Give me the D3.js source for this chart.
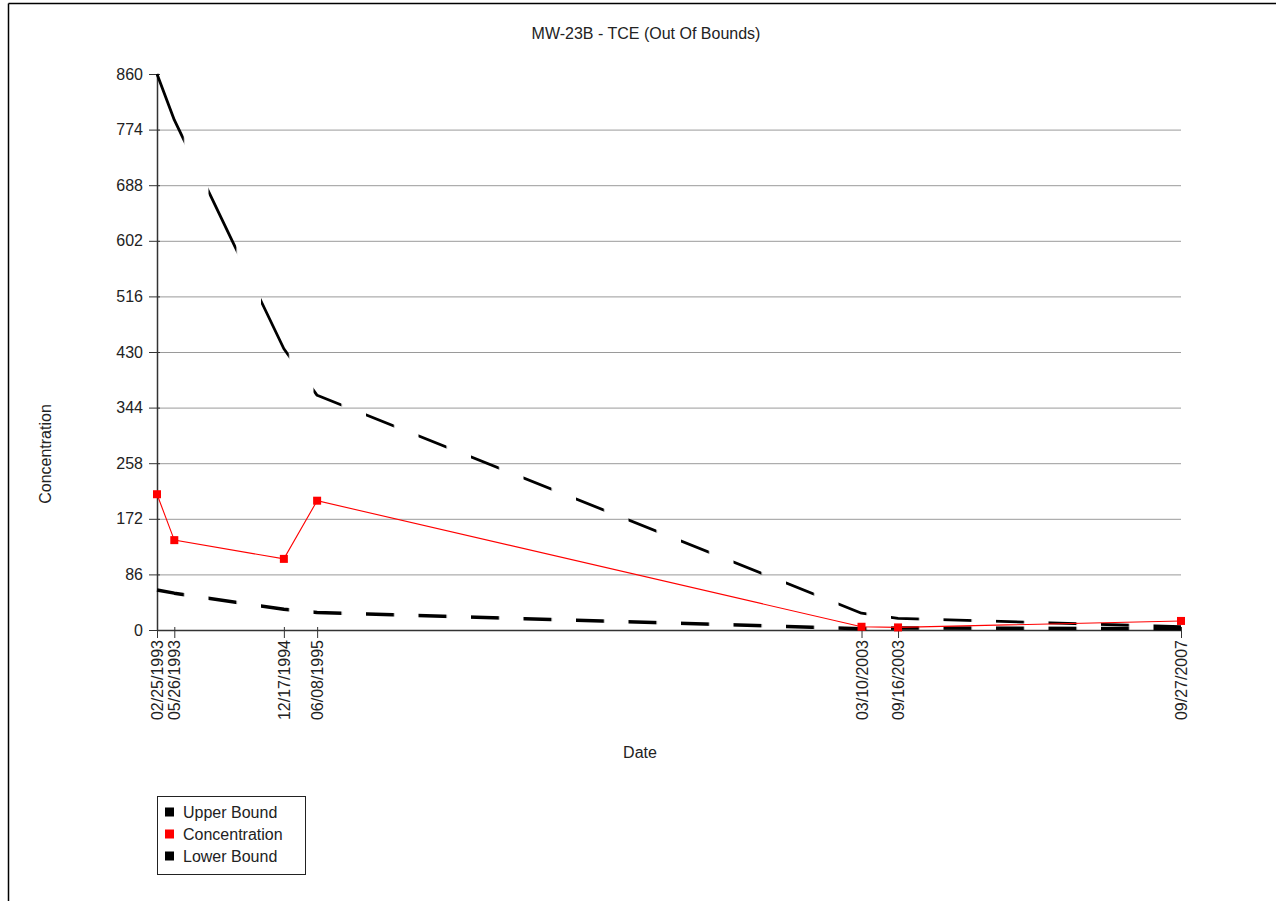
<!DOCTYPE html>
<html>
<head>
<meta charset="utf-8">
<script src="https://cdn.jsdelivr.net/npm/d3@7/dist/d3.min.js"></script>
<style>
  html, body { margin: 0; padding: 0; background: #fff; }
  svg { display: block; }
  text { font-family: "Liberation Sans", Arial, sans-serif; fill: #222; }
</style>
</head>
<body>
<svg id="chart" width="1276" height="901"></svg>
<script>
// ---- data ----
const dates = ["02/25/1993", "05/26/1993", "12/17/1994", "06/08/1995", "03/10/2003", "09/16/2003", "09/27/2007"];
const upperBound = [860, 789, 435, 363, 26, 18, 5];
const concentration = [210, 139, 110, 200, 5, 4, 14];
const lowerBound = [62, 57, 32, 27, 2, 3, 2];
const yTicks = [0, 86, 172, 258, 344, 430, 516, 602, 688, 774, 860];
const seriesNames = ["Upper Bound", "Concentration", "Lower Bound"];
const seriesColors = ["#000000", "#ff0000", "#000000"];
const title = "MW-23B - TCE (Out Of Bounds)";
const xTitle = "Date";
const yTitle = "Concentration";

// ---- layout ----
const W = 1276, H = 901;
const plot = { left: 157, right: 1181, top: 74, bottom: 630 };
const fontSize = 16;

const parse = d3.timeParse("%m/%d/%Y");
const fmt = d3.timeFormat("%m/%d/%Y");
const pd = dates.map(parse);

const x = d3.scaleTime().domain(d3.extent(pd)).range([plot.left, plot.right]);
const y = d3.scaleLinear().domain([0, 860]).range([plot.bottom, plot.top]);

const svg = d3.select("#chart");

// frame (top & left edges)
svg.append("line").attr("x1", 8.5).attr("x2", W).attr("y1", 3.5).attr("y2", 3.5)
  .attr("stroke", "#000").attr("stroke-width", 1.5);
svg.append("line").attr("x1", 8.5).attr("x2", 8.5).attr("y1", 3.5).attr("y2", H)
  .attr("stroke", "#000").attr("stroke-width", 1.5);

// title
svg.append("text").attr("x", 646).attr("y", 39).attr("text-anchor", "middle")
  .style("font-size", fontSize + "px").text(title);

// gridlines (none at the top tick)
const yMax = y.domain()[1];
svg.append("g").selectAll("line").data(yTicks.filter(d => d > 0 && d < yMax)).join("line")
  .attr("x1", plot.left).attr("x2", plot.right)
  .attr("y1", d => y(d) + 0.5).attr("y2", d => y(d) + 0.5)
  .attr("stroke", "#9a9a9a").attr("stroke-width", 1);

// y axis
const yAxis = svg.append("g").attr("transform", `translate(${plot.left},0)`)
  .call(d3.axisLeft(y).tickValues(yTicks).tickSize(8).tickSizeOuter(0).tickPadding(6));
yAxis.select(".domain").attr("stroke", "#333").attr("stroke-width", 1.5);
yAxis.selectAll(".tick line").attr("stroke", "#333").attr("x2", -8).attr("x1", 3);
yAxis.selectAll(".tick text").style("font-size", fontSize + "px").style("font-family", "Liberation Sans, Arial, sans-serif").attr("fill", "#222");

// x axis
const xAxis = svg.append("g").attr("transform", `translate(0,${plot.bottom})`)
  .call(d3.axisBottom(x).tickValues(pd).tickFormat(fmt).tickSize(8).tickSizeOuter(0));
xAxis.select(".domain").attr("stroke", "#333").attr("stroke-width", 1.5);
xAxis.selectAll(".tick line").attr("stroke", "#333").attr("y1", -3);
xAxis.selectAll(".tick text")
  .style("font-size", fontSize + "px").style("font-family", "Liberation Sans, Arial, sans-serif").attr("fill", "#222")
  .attr("transform", "rotate(-90)")
  .attr("text-anchor", "end")
  .attr("x", -10).attr("y", 0).attr("dy", "0.35em");

// axis titles
svg.append("text").attr("x", 640).attr("y", 758).attr("text-anchor", "middle")
  .style("font-size", fontSize + "px").text(xTitle);
svg.append("text").attr("transform", `translate(51,454) rotate(-90)`).attr("text-anchor", "middle")
  .style("font-size", fontSize + "px").text(yTitle);

// dash mask (dashes laid out along x)
const defs = svg.append("defs");
const pat = defs.append("pattern").attr("id", "dashpat").attr("patternUnits", "userSpaceOnUse")
  .attr("x", x(pd[0]) - 1).attr("y", 0).attr("width", 52.5).attr("height", H);
pat.append("rect").attr("x", 0).attr("y", 0).attr("width", 28).attr("height", H).attr("fill", "#fff");
defs.append("mask").attr("id", "dashmask").attr("maskUnits", "userSpaceOnUse")
  .attr("x", 0).attr("y", 0).attr("width", W).attr("height", H)
  .append("rect").attr("x", 0).attr("y", 0).attr("width", W).attr("height", H).attr("fill", "url(#dashpat)");

const line = d3.line().x(d => x(d.date)).y(d => y(d.v));
const mk = arr => arr.map((v, i) => ({ date: pd[i], v }));

const bounds = svg.append("g").attr("mask", "url(#dashmask)");
bounds.append("path").datum(mk(upperBound)).attr("d", line)
  .attr("fill", "none").attr("stroke", seriesColors[0]).attr("stroke-width", 2.8)
  .attr("stroke-linejoin", "round");
bounds.append("path").datum(mk(lowerBound)).attr("d", line)
  .attr("fill", "none").attr("stroke", seriesColors[2]).attr("stroke-width", 3.5)
  .attr("stroke-linejoin", "round");

// concentration
svg.append("path").datum(mk(concentration)).attr("d", line)
  .attr("fill", "none").attr("stroke", seriesColors[1]).attr("stroke-width", 1.1);
svg.append("g").selectAll("rect").data(mk(concentration)).join("rect")
  .attr("x", d => x(d.date) - 4).attr("y", d => y(d.v) - 4)
  .attr("width", 8).attr("height", 8).attr("fill", seriesColors[1]);

// legend
const lg = svg.append("g").attr("transform", "translate(157,796)");
lg.append("rect").attr("x", 0.5).attr("y", 0.5).attr("width", 148).attr("height", 78)
  .attr("fill", "#fff").attr("stroke", "#222").attr("stroke-width", 1);
seriesNames.forEach((n, i) => {
  const cy = 16 + i * 22;
  lg.append("rect").attr("x", 8).attr("y", cy - 4.5).attr("width", 9).attr("height", 9).attr("fill", seriesColors[i]);
  lg.append("text").attr("x", 26).attr("y", cy).attr("dy", "0.35em")
    .style("font-size", fontSize + "px").text(n);
});
</script>
</body>
</html>
